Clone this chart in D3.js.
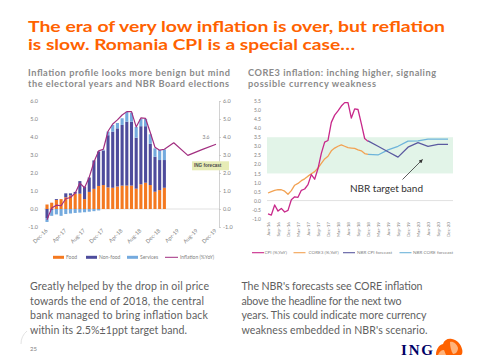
<!DOCTYPE html>
<html><head><meta charset="utf-8">
<script src="https://cdn.jsdelivr.net/npm/d3@7"></script>
<style>html,body{margin:0;padding:0;background:#fff;} svg{display:block;}</style>
</head><body><svg id="c" width="480" height="360"></svg>
<script>
// ---------------- DATA ----------------
// Left chart: monthly, Dec-16 .. Dec-19
const leftMonths = ["Dec-16","Jan-17","Feb-17","Mar-17","Apr-17","May-17","Jun-17","Jul-17","Aug-17","Sep-17","Oct-17","Nov-17","Dec-17",
  "Jan-18","Feb-18","Mar-18","Apr-18","May-18","Jun-18","Jul-18","Aug-18","Sep-18","Oct-18","Nov-18","Dec-18",
  "Jan-19","Feb-19","Mar-19","Apr-19","May-19","Jun-19","Jul-19","Aug-19","Sep-19","Oct-19","Nov-19","Dec-19"];
const leftXTicks = ["Dec-16","Apr-17","Aug-17","Dec-17","Apr-18","Aug-18","Dec-18","Apr-19","Aug-19","Dec-19"];
const leftYTicks = [-1,0,1,2,3,4,5,6];
// contributions (pp), Dec-16 .. Jan-19
const food     = [0.25,0.35,0.5,0.55,0.65,0.75,0.85,0.85,0.55,0.95,1.12,1.28,1.33,1.2,1.18,1.25,1.3,1.3,1.3,1.13,1.37,1.46,1.33,0.96,1.05,1.18];
const nonFood  = [-0.5,-0.05,0.05,0.0,0.22,0.12,0.1,0.7,0.69,0.8,1.58,1.92,1.92,2.9,3.12,3.23,3.37,3.55,3.55,2.83,3.23,3.14,2.29,1.94,1.67,1.54];
const services = [-0.22,-0.33,-0.3,-0.38,-0.28,-0.25,-0.22,-0.2,-0.18,-0.15,-0.12,-0.08,0.05,0.2,0.37,0.3,0.37,0.55,0.5,0.6,0.4,0.4,0.53,0.47,0.56,0.59];
const inflation = [-0.6,0.05,0.21,0.18,0.57,0.64,0.88,1.44,1.18,1.77,2.61,3.23,3.32,4.32,4.72,4.95,5.22,5.41,5.41,4.56,5.06,5.03,4.25,3.43,3.27,3.32];
const ingForecastMonths = ["Mar-19","Jun-19","Sep-19","Dec-19"];
const ingForecast = [3.68,2.98,3.3,3.6];

// Right chart: monthly, Jun-16 .. Dec-20
const rightMonths = ["Jun-16","Jul-16","Aug-16","Sep-16","Oct-16","Nov-16","Dec-16",
  "Jan-17","Feb-17","Mar-17","Apr-17","May-17","Jun-17","Jul-17","Aug-17","Sep-17","Oct-17","Nov-17","Dec-17",
  "Jan-18","Feb-18","Mar-18","Apr-18","May-18","Jun-18","Jul-18","Aug-18","Sep-18","Oct-18","Nov-18","Dec-18",
  "Jan-19","Feb-19","Mar-19","Apr-19","May-19","Jun-19","Jul-19","Aug-19","Sep-19","Oct-19","Nov-19","Dec-19",
  "Jan-20","Feb-20","Mar-20","Apr-20","May-20","Jun-20","Jul-20","Aug-20","Sep-20","Oct-20","Nov-20","Dec-20"];
const rightXTicks = ["Jun-16","Sep-16","Dec-16","Mar-17","Jun-17","Sep-17","Dec-17","Mar-18","Jun-18","Sep-18","Dec-18",
  "Mar-19","Jun-19","Sep-19","Dec-19","Mar-20","Jun-20","Sep-20","Dec-20"];
const rightYTicks = [-1,-0.5,0,0.5,1,1.5,2,2.5,3,3.5,4,4.5,5,5.5];
// Jun-16 .. Dec-18
const cpi   = [-0.74,-0.8,-0.24,-0.58,-0.43,-0.63,-0.54,0.05,0.21,0.18,0.57,0.64,0.88,1.44,1.18,1.77,2.61,3.23,3.32,4.32,4.72,4.95,5.22,5.41,5.41,4.56,5.06,5.03,4.25,3.43,3.27];
const core3 = [0.42,0.5,0.57,0.6,0.6,0.52,0.35,0.55,0.85,0.95,1.1,1.2,1.35,1.48,1.6,1.8,2.05,2.3,2.45,2.75,2.9,3.0,3.08,3.0,2.92,2.9,2.88,2.8,2.75,2.6,2.55];
const nbrMonths = ["Dec-18","Mar-19","Jun-19","Sep-19","Dec-19","Mar-20","Jun-20","Sep-20","Dec-20"];
const nbrCpi  = [3.3,3.0,2.7,2.4,2.95,3.2,3.0,3.1,3.1];
const nbrCore = [2.55,2.52,2.8,3.0,3.28,3.3,3.4,3.4,3.4];
const targetBand = [1.5,3.5];

// ---------------- STYLE ----------------
const C = {orange:"#ff6200", food:"#f47920", nonfood:"#4e4c9c", services:"#74aade", infl:"#a22f80",
  cpi:"#c8288a", core:"#f2a253", nbrCpi:"#5b5aa0", nbrCore:"#6db4da", band:"#e2f4e8",
  grey:"#7f7f7f", axis:"#c8c8c8", text:"#5f5f5f"};
const FF = "Lato, 'Open Sans', sans-serif";
const svg = d3.select("#c").style("font-family", FF);

// ---------------- HEADINGS ----------------
function line(txt, x, y, size, color, weight, width, adj){
  const t = svg.append("text").attr("x",x).attr("y",y).attr("font-size",size)
    .attr("fill",color).attr("font-weight",weight).text(txt);
  if(width) t.attr("textLength",width);
  if(adj) t.attr("lengthAdjust",adj);
  return t;
}
line("The era of very low inflation is over, but reflation",28,31.5,15.4,C.orange,700,417,"spacingAndGlyphs");
line("is slow. Romania CPI is a special case…",28,50,15.4,C.orange,700,327,"spacingAndGlyphs");
line("Inflation profile looks more benign but mind",28,75.5,9.2,"#8a8a8a",700,202);
line("the electoral years and NBR Board elections",28,86.5,9.2,"#8a8a8a",700,201);
line("CORE3 inflation: inching higher, signaling",248,75.5,9.2,"#8a8a8a",700,188);
line("possible currency weakness",248,86.5,9.2,"#8a8a8a",700,128);

const paraL = [["Greatly helped by the drop in oil price",179],["towards the end of 2018, the central",174],
  ["bank managed to bring inflation back",178],["within its 2.5%±1ppt target band.",157]];
const paraR = [["The NBR's forecasts see CORE inflation",181],["above the headline for the next two",160],
  ["years. This could indicate more currency",185],["weakness embedded in NBR's scenario.",186]];
paraL.forEach((p,i)=>line(p[0],30,290+i*14.5,10.6,C.text,400,p[1]));
paraR.forEach((p,i)=>line(p[0],241.5,290+i*14.5,10.6,C.text,400,p[1]));

// ---------------- LEFT CHART ----------------
const xL = d3.scalePoint().domain(leftMonths).range([47,216]);
const yL = d3.scaleLinear().domain([-1,6]).range([227,101]);
const bw = xL.step()*0.66;
const gL = svg.append("g");

gL.append("line").attr("x1",44).attr("x2",219).attr("y1",yL(0)).attr("y2",yL(0))
  .attr("stroke","#d9d9d9").attr("stroke-width",0.8);

const rows = food.map((f,i)=>({m:leftMonths[i], food:f, nonfood:nonFood[i], services:services[i]}));
const series = d3.stack().keys(["food","nonfood","services"]).offset(d3.stackOffsetDiverging)(rows);
const colL = {food:C.food, nonfood:C.nonfood, services:C.services};
gL.selectAll("g.s").data(series).join("g").attr("fill",d=>colL[d.key])
  .selectAll("rect").data(d=>d).join("rect")
  .attr("x",d=>xL(d.data.m)-bw/2).attr("width",bw)
  .attr("y",d=>yL(Math.max(d[0],d[1]))).attr("height",d=>Math.abs(yL(d[0])-yL(d[1])));

const inflPts = inflation.map((v,i)=>[leftMonths[i],v]).concat(ingForecastMonths.map((m,i)=>[m,ingForecast[i]]));
gL.append("path").datum(inflPts).attr("fill","none").attr("stroke",C.infl).attr("stroke-width",1.2)
  .attr("stroke-linejoin","round")
  .attr("d",d3.line().x(d=>xL(d[0])).y(d=>yL(d[1])));

const axL = gL.append("g").attr("transform","translate(38,0)")
  .call(d3.axisLeft(yL).tickValues(leftYTicks).tickSize(0).tickPadding(0).tickFormat(d=>d.toFixed(1)));
axL.select(".domain").remove();
axL.selectAll("text").attr("font-size",5.5).attr("fill",C.grey).attr("font-family",FF);
const axR = gL.append("g").attr("transform","translate(219,0)")
  .call(d3.axisRight(yL).tickValues(leftYTicks).tickSize(2).tickSizeOuter(0).tickPadding(2).tickFormat(d=>d.toFixed(1)));
axR.select(".domain").attr("stroke","#bfbfbf").attr("stroke-width",0.7);
axR.selectAll("line").attr("stroke","#bfbfbf").attr("stroke-width",0.7);
axR.selectAll("text").attr("font-size",5.5).attr("fill",C.grey).attr("font-family",FF);

gL.selectAll("text.xl").data(leftXTicks).join("text")
  .attr("font-size",5.5).attr("fill",C.grey).attr("text-anchor","end")
  .attr("transform",d=>`translate(${xL(d)+1},${231}) rotate(-45)`).text(d=>d);

const last = ingForecastMonths.length-1;
gL.append("rect").attr("x",xL("Jul-19")-0.5).attr("y",yL(2.65)).attr("width",37).attr("height",9).attr("fill","#e7ecb6");
gL.append("text").attr("x",xL("Jul-19")+1.5).attr("y",yL(2.65)+5.8).attr("font-size",4.6).attr("font-weight",700)
  .attr("fill","#4a4a4a").attr("font-family","'Liberation Sans', sans-serif").text("ING forecast");
gL.append("text").attr("x",xL(ingForecastMonths[last])-10).attr("y",yL(ingForecast[last])-5)
  .attr("font-size",5).attr("fill",C.grey).attr("text-anchor","middle").text(ingForecast[last].toFixed(1));

const legL = [["Food","rect",C.food,53,66],["Non-food","rect",C.nonfood,86,99],["Services","rect",C.services,127,140],["Inflation (%YoY)","line",C.infl,165,180]];
legL.forEach(([t,k,c,x0,xt])=>{
  if(k==="rect") gL.append("rect").attr("x",x0).attr("y",255.8).attr("width",11).attr("height",3).attr("fill",c);
  else gL.append("line").attr("x1",x0).attr("x2",x0+13).attr("y1",257.3).attr("y2",257.3).attr("stroke",c).attr("stroke-width",1);
  gL.append("text").attr("x",xt).attr("y",259).attr("font-size",5).attr("fill",C.grey).text(t);
});

// ---------------- RIGHT CHART ----------------
const xR = d3.scalePoint().domain(rightMonths).range([268,448]);
const yR = d3.scaleLinear().domain([-1,5.5]).range([218.7,101]);
const gR = svg.append("g");
gR.append("rect").attr("x",267).attr("width",186).attr("y",yR(targetBand[1])).attr("height",yR(targetBand[0])-yR(targetBand[1]))
  .attr("fill",C.band);
gR.append("line").attr("x1",267).attr("x2",453).attr("y1",yR(0)).attr("y2",yR(0)).attr("stroke","#d9d9d9").attr("stroke-width",0.8);

const lineR = d3.line().x(d=>xR(d[0])).y(d=>yR(d[1]));
function drawR(months, vals, col){
  gR.append("path").datum(vals.map((v,i)=>[months[i],v])).attr("fill","none").attr("stroke",col)
    .attr("stroke-width",1.3).attr("stroke-linejoin","round").attr("d",lineR);
}
drawR(rightMonths, core3, C.core);
drawR(nbrMonths, nbrCore, C.nbrCore);
drawR(nbrMonths, nbrCpi, C.nbrCpi);
drawR(rightMonths, cpi, C.cpi);

const ayR = gR.append("g").attr("transform","translate(261,0)")
  .call(d3.axisLeft(yR).tickValues(rightYTicks).tickSize(0).tickPadding(0).tickFormat(d=>d.toFixed(1)));
ayR.select(".domain").remove();
ayR.selectAll("text").attr("font-size",5).attr("fill",C.grey).attr("font-family",FF);

gR.selectAll("text.xr").data(rightXTicks).join("text")
  .attr("font-size",4.6).attr("fill",C.grey).attr("text-anchor","end")
  .attr("transform",d=>`translate(${xR(d)+1.6},${222}) rotate(-90)`).text(d=>d);

svg.append("defs").append("marker").attr("id","ah").attr("viewBox","0 0 10 10").attr("refX",9).attr("refY",5)
  .attr("markerWidth",5).attr("markerHeight",5).attr("orient","auto")
  .append("path").attr("d","M0,0 L10,5 L0,10 z").attr("fill","#333");
gR.append("line").attr("x1",402.5).attr("y1",179.5).attr("x2",422.5).attr("y2",159.5)
  .attr("stroke","#333").attr("stroke-width",0.8).attr("marker-end","url(#ah)");
gR.append("text").attr("x",350).attr("y",192).attr("font-size",10).attr("fill","#333").attr("textLength",73).text("NBR target band");

const legR = [["CPI (%,YoY)",C.cpi,252,264.5],["CORE3 (%,YoY)",C.core,293.5,308.5],["NBR CPI forecast",C.nbrCpi,343,357],["NBR CORE forecast",C.nbrCore,399.5,413]];
legR.forEach(([t,c,x0,xt])=>{
  gR.append("line").attr("x1",x0).attr("x2",x0+12).attr("y1",252.7).attr("y2",252.7).attr("stroke",c).attr("stroke-width",1.1);
  gR.append("text").attr("x",xt).attr("y",254.3).attr("font-size",4.6).attr("fill",C.grey).text(t);
});

// ---------------- FOOTER ----------------
svg.append("path").attr("d","M27,331 Q21,336 21,344").attr("fill","none").attr("stroke","#e3e3e3").attr("stroke-width",1);
svg.append("text").attr("x",30).attr("y",351).attr("font-size",6).attr("fill",C.grey).text("25");
svg.append("text").attr("x",401).attr("y",355).attr("font-size",15).attr("font-weight",700)
  .attr("font-family","'Liberation Serif', 'DejaVu Serif', serif").attr("fill","#000066").attr("textLength",32).text("ING");
const lion = svg.append("g").attr("fill","#ff6200");
lion.append("path").attr("d","M436,355 C436,349 439,345 443,344 C444,340 448,338 452,339 C457,340 461,344 462,349 C463,352 462,355 461,355 Z");
lion.append("path").attr("d","M438,355 C439,352 441,350 444,350 L446,355 Z").attr("fill","#ffb37a");
lion.append("path").attr("d","M450,342 C453,341 457,344 458,348 C458,351 456,354 453,354 C451,351 450,346 450,342 Z").attr("fill","#ffb37a");
</script></body></html>
